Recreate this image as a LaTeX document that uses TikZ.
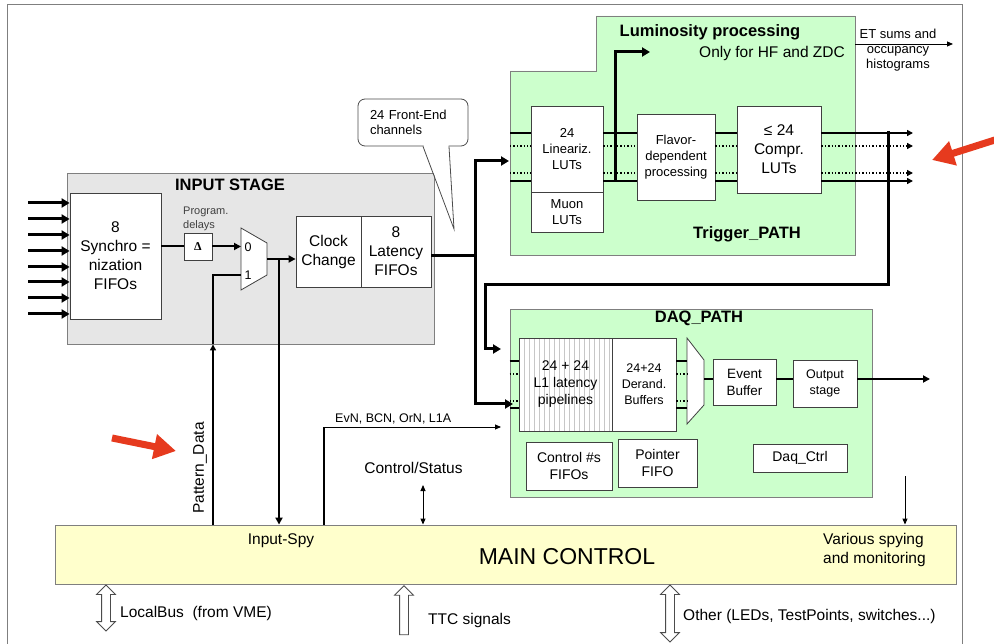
\documentclass[tikz,border=0pt]{standalone}
\usepackage{fontspec}
\setmainfont{Liberation Sans}
\newfontfamily\deltafont{Liberation Serif}
\usetikzlibrary{arrows.meta,positioning,calc,shapes.geometric,shapes.arrows}
\definecolor{lumigreen}{HTML}{CCFFCC}
\definecolor{ctrlyellow}{HTML}{FFFFCC}
\definecolor{stagegray}{HTML}{E6E6E6}
\definecolor{edgegray}{HTML}{7F7F7F}
\definecolor{markred}{HTML}{E63A1E}
\newcommand{\fsz}[2]{\fontsize{#1}{#2}\selectfont}

\begin{document}
\begin{tikzpicture}[
  x=1pt,y=-1pt,
  font=\fsz{15.5}{19},
  blk/.style={draw=black!75,fill=white,align=center,inner sep=1pt,line width=0.8pt},
  grnbox/.style={draw=edgegray,fill=lumigreen,line width=0.9pt},
  ttl/.style={font=\bfseries\fsz{16.5}{19}},
  bus/.style={line width=3pt},
  busarr/.style={bus,-{Triangle[length=8pt,width=9pt]}},
  med/.style={line width=2pt},
  medarr/.style={med,-{Triangle[length=7pt,width=7pt]}},
  trk/.style={line width=1.9pt},
  trkdot/.style={line width=1.4pt,dotted},
  thinarr/.style={line width=0.9pt,-{Triangle[length=6pt,width=5pt]}},
  hollow/.style={draw=black!70,fill=white,line width=0.8pt,inner sep=4pt,rotate=90},
  redmark/.style={markred,line width=7pt,-{Triangle[length=22pt,width=24pt]}}
]
\useasboundingbox (0,0) rectangle (994,644);
\draw[edgegray,line width=1pt] (7,650) |- (962,5) -- (962,650);

% input stage
\node[draw=edgegray,fill=stagegray,minimum width=367pt,minimum height=171pt,line width=0.9pt] (instage) at (250.5,258.5) {};
\node[ttl] (inttl) at (230,185) {INPUT STAGE};
\node[blk,minimum width=91pt,minimum height=126pt] (synch) at (115.5,256) {8\\Synchro =\\nization\\FIFOs};
\foreach \y in {203,219,235,251,267,282,298,314}
  \draw[busarr] (28,\y) -- (synch.west |- 0,\y);
\node[blk,minimum width=28pt,minimum height=27pt,font=\deltafont\bfseries\fsz{12}{13}] (dly) at (198,246.5) {Δ};
\node[font=\fsz{11}{13.5},text=black!75,align=left,anchor=west,inner sep=0pt] (dlylbl) at (183,219) {Program.\\delays};
\draw[blk] (241,228) -- (267,243) -- (267,275) -- (241,290) -- cycle;
\coordinate (mux0) at (241,247);
\coordinate (mux1) at (241,275);
\coordinate (muxo) at (267,259);
\node[font=\fsz{12.5}{14}] (lbl0) at (248,247) {0};
\node[font=\fsz{12.5}{14}] (lbl1) at (248,275) {1};
\node[blk,minimum width=65pt,minimum height=71pt] (clk) at (328.5,251.5) {Clock\\Change};
\node[blk,minimum width=70pt,minimum height=71pt] (lat) at (396,251.5) {8\\Latency\\FIFOs};
\draw[med] (synch.east |- dly.west) -- (dly.west);
\draw[medarr] (dly.east) -- (mux0 |- dly.east);
\draw[medarr] (muxo) -- (muxo -| clk.west);

% main control
\node[draw=edgegray,fill=ctrlyellow,minimum width=901pt,minimum height=59pt,line width=0.9pt] (mainctl) at (505.5,554.5) {};
\node[font=\fsz{23}{26}] (mainttl) at (567,557) {MAIN CONTROL};
\node (spylbl) at (281,541) {Input-Spy};
\node[align=left,anchor=west,inner sep=0pt] (vsplbl) at (823,549.5) {Various spying\\and monitoring};

% pattern data and spy
\coordinate (pd) at (213,275);
\coordinate (spy) at (279,259);
\draw[line width=1.3pt,-{Triangle[length=6pt,width=6pt]}] (pd |- mainctl.north) -- (pd |- instage.south);
\draw[med] (pd |- instage.south) -- (pd) -- (mux1);
\node[rotate=90] (pdlbl) at (200,468) {Pattern\_Data};
\draw[medarr] (spy) -- (spy |- mainctl.north);

% trigger and luminosity
\draw[grnbox] (510,71) -- (596,71) -- (596,16) -- (855,16) -- (855,255) -- (510,255) -- cycle;
\coordinate (trgw) at (510,255);
\node[ttl] (lumittl) at (710,32) {Luminosity processing};
\node[anchor=east,inner sep=0pt] (lumisub) at (845,53) {Only for HF and ZDC};
\node[ttl] (trgttl) at (747,234) {Trigger\_PATH};
\node[blk,minimum width=72pt,minimum height=86pt,font=\fsz{13}{16}] (lin) at (567,149) {24\\Lineariz.\\LUTs};
\node[blk,minimum width=72pt,minimum height=40pt,font=\fsz{13}{16}] (muon) at (567,212) {Muon\\LUTs};
\node[blk,minimum width=78pt,minimum height=86pt,font=\fsz{13}{16}] (flav) at (676,157) {Flavor-\\dependent\\processing};
\node[blk,minimum width=84pt,minimum height=87pt] (cmpr) at (779,149.5) {≤ 24\\Compr.\\LUTs};
\foreach \y/\ls in {133/trk,146/trkdot,173/trkdot,181/trk} {
  \draw[\ls] (trgw |- 0,\y) -- (lin.west |- 0,\y);
  \draw[\ls] (lin.east |- 0,\y) -- (flav.west |- 0,\y);
  \draw[\ls] (flav.east |- 0,\y) -- (cmpr.west |- 0,\y);
  \draw[\ls,-{Triangle[length=6pt,width=6pt]}] (cmpr.east |- 0,\y) -- (913,\y);
}
\coordinate (lumi) at (615,182);
\coordinate (lumiout) at (650,52);
\draw[busarr] (lumi) |- (lumiout);
\coordinate (etsrc) at (855,44);
\coordinate (etdst) at (953,44);
\draw[thinarr] (etsrc) -- (etdst);
\node[font=\fsz{13}{15},align=center] (etlbl) at (898,50) {ET sums and\\occupancy\\histograms};

% front-end callout
\node[draw=black!70,fill=white,rounded corners=7pt,minimum width=110pt,minimum height=47pt,line width=0.8pt,
  align=left,text width=86pt,font=\fsz{13}{15}] (fecall) at (413,122.5) {24 Front-End\\channels};
\coordinate (fetip) at (454,229);
\fill[white] ([xshift=10.5pt,yshift=1.5pt]fecall.south) -- (fetip) -- ([xshift=35.5pt,yshift=1.5pt]fecall.south) -- cycle;
\draw[black!70,line width=0.8pt] ([xshift=10pt]fecall.south) -- (fetip) -- ([xshift=36pt]fecall.south);

% daq path
\node[grnbox,minimum width=362pt,minimum height=188pt] (daq) at (691,403) {};
\node[ttl] (daqttl) at (699,318) {DAQ\_PATH};
\node[blk,minimum width=93pt,minimum height=93pt,font=\fsz{14}{17},
  path picture={\foreach \i in {1,...,18}
    \draw[black!22,line width=0.6pt] ([xshift=\i*5pt]path picture bounding box.south west)
      -- ([xshift=\i*5pt]path picture bounding box.north west);}] (pipe) at (565.5,384.5) {24 + 24\\L1 latency\\pipelines};
\node[blk,minimum width=64pt,minimum height=93pt,font=\fsz{12.5}{16}] (derand) at (644,384.5) {24+24\\Derand.\\Buffers};
\draw[blk] (687,338) -- (704,360) -- (704,405) -- (687,424) -- cycle;
\coordinate (mux2o) at (704,379);
\foreach \y/\ls in {361/trk,374/trkdot,401/trkdot,408/trk} {
  \draw[\ls] (daq.west |- 0,\y) -- (pipe.west |- 0,\y);
  \draw[\ls] (derand.east |- 0,\y) -- (687,\y);
}
\node[blk,minimum width=63pt,minimum height=46pt,font=\fsz{13.5}{17}] (evb) at (744.5,382) {Event\\Buffer};
\node[blk,minimum width=64pt,minimum height=47pt,font=\fsz{12.5}{16}] (outst) at (825,383.5) {Output\\stage};
\node[blk,minimum width=86pt,minimum height=48pt,font=\fsz{14}{17}] (ctlfifo) at (569,466) {Control \#s\\FIFOs};
\node[blk,minimum width=79pt,minimum height=48pt,font=\fsz{14}{17}] (ptrfifo) at (657.5,463) {Pointer\\FIFO};
\node[blk,minimum width=94pt,minimum height=28pt,font=\fsz{14}{17}] (daqctl) at (800,458) {Daq\_Ctrl};
\draw[med] (mux2o) -- (mux2o -| evb.west);
\draw[med] (evb.east |- mux2o) -- (outst.west |- mux2o);
\coordinate (daqout) at (930,379);
\draw[medarr] (outst.east |- mux2o) -- (daqout);

% front-end bus and feedback
\coordinate (fe) at (475,256);
\coordinate (trgin) at (509,161);
\coordinate (daqin) at (513,404);
\draw[bus] (lat.east |- fe) -- (fe);
\draw[busarr] (fe) |- (trgin);
\draw[busarr] (fe) |- (daqin);
\coordinate (fb) at (888,131);
\coordinate (fbin) at (501,349);
\draw[busarr] (fb) |- (485,285) |- (fbin);

% control signals
\coordinate (evn) at (324,427);
\coordinate (evnin) at (501,427);
\draw[med] (evn |- mainctl.north) -- (evn);
\draw[thinarr] (evn) -- (evnin);
\node[font=\fsz{12.5}{14},anchor=base west,inner sep=0pt] (evnlbl) at (335,422) {EvN, BCN, OrN, L1A};
\node (cslbl) at (413.5,468) {Control/Status};
\coordinate (cs) at (423,485);
\draw[line width=0.9pt,{Triangle[length=6pt,width=5pt]}-{Triangle[length=6pt,width=5pt]}] (cs) -- (cs |- mainctl.north);
\coordinate (vsp) at (905,476);
\draw[thinarr] (vsp) -- (vsp |- mainctl.north);

% external interfaces
\node[hollow,double arrow,minimum height=46pt,double arrow head extend=5pt] (lbarr) at (106,608) {};
\node[anchor=west,inner sep=0pt] (lblbl) at (120,613) {LocalBus\ \ (from VME)};
\node[hollow,single arrow,minimum height=49pt,single arrow head extend=5pt] (ttcarr) at (404,612.5) {};
\node[anchor=west,inner sep=0pt] (ttclbl) at (428,620) {TTC signals};
\node[hollow,double arrow,minimum height=57pt,double arrow head extend=5pt] (otharr) at (670,613.5) {};
\node[anchor=west,inner sep=0pt] (othlbl) at (683,616) {Other (LEDs, TestPoints, switches...)};

% red marks
\coordinate (redtail1) at (112,438);
\coordinate (redtip1) at (176,451);
\draw[redmark] (redtail1) -- (redtip1);
\coordinate (redtail2) at (998,139);
\coordinate (redtip2) at (932,160);
\draw[redmark] (redtail2) -- (redtip2);
\end{tikzpicture}
\end{document}
